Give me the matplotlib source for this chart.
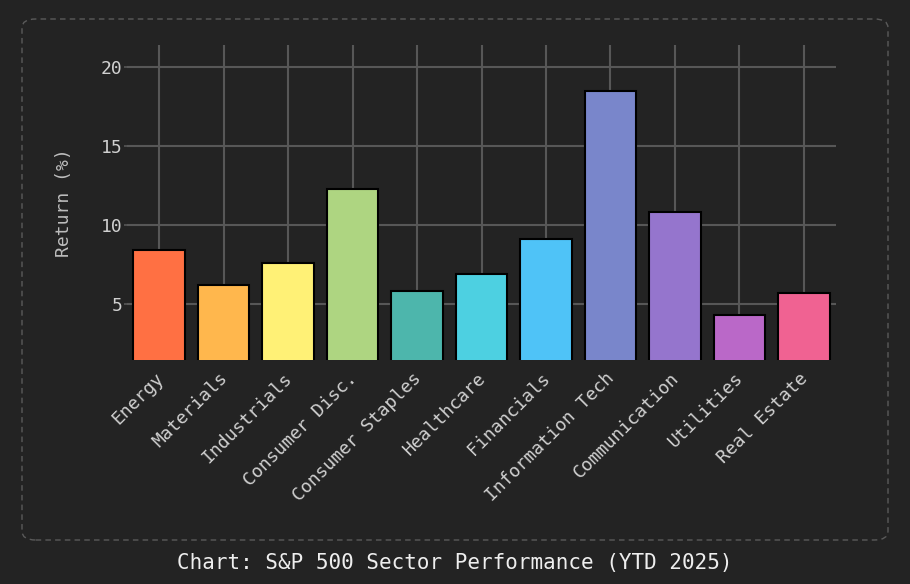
import numpy as np
import matplotlib
matplotlib.use("Agg")
import matplotlib.pyplot as plt
import matplotlib.transforms as mtransforms
from matplotlib.patches import FancyBboxPatch

# sector returns, YTD 2025
sectors = ["Energy", "Materials", "Industrials", "Consumer Disc.", "Consumer Staples",
           "Healthcare", "Financials", "Information Tech", "Communication",
           "Utilities", "Real Estate"]
returns = [8.4, 6.2, 7.6, 12.3, 5.8, 6.9, 9.1, 18.5, 10.8, 4.3, 5.7]
colors = ["#FF7043", "#FFB74D", "#FFF176", "#AED581", "#4DB6AC", "#4DD0E1",
          "#4FC3F7", "#7986CB", "#9575CD", "#BA68C8", "#F06292"]

bg = "#232323"
grid_c = "#575757"
txt_c = "#d0d0d0"

plt.rcParams['font.family'] = ['DejaVu Sans Mono', 'DejaVu Sans']

fig = plt.figure(figsize=(9.1, 5.84), dpi=100, facecolor=bg)
ax = fig.add_axes([127/910, 1 - 360/584, (836-127)/910, (360-45)/584])
ax.set_facecolor(bg)

x = np.arange(len(sectors))
ax.bar(x, returns, width=0.8, color=colors, edgecolor="black", linewidth=1.5, zorder=3)

ax.set_xlim(-0.5, 10.5)
ax.set_ylim(1.45, 21.4)
ax.set_yticks([5, 10, 15, 20])
ax.set_xticks(x)
ax.set_xticklabels(sectors, rotation=45, ha="right", rotation_mode="anchor")
ax.grid(True, color=grid_c, linewidth=1.5, zorder=0)
for s in ax.spines.values():
    s.set_visible(False)
ax.tick_params(axis="both", colors=grid_c, labelcolor=txt_c, labelsize=13, length=2, width=1.2)
ax.tick_params(axis="y", pad=1)
ax.tick_params(axis="x", length=0, pad=8)
ax.set_ylabel("Return (%)", color="#bdbdbd", fontsize=13, labelpad=20)

# nudge the rotated labels a bit left
shift = mtransforms.ScaledTranslation(-5/100, 2/100, fig.dpi_scale_trans)
for lbl in ax.get_xticklabels():
    lbl.set_transform(lbl.get_transform() + shift)

# dashed rounded frame
frame = FancyBboxPatch((22/910, 1 - 540/584), (888-22)/910, (540-19)/584,
                       boxstyle="round,pad=0,rounding_size=0.015",
                       transform=fig.transFigure, fill=False,
                       edgecolor="#5a5a5a", linewidth=1.0, linestyle=(0, (4, 3)))
fig.patches.append(frame)

fig.text(0.5, 1 - 563/584, "Chart: S&P 500 Sector Performance (YTD 2025)",
         ha="center", va="center", color="#eeeeee", fontsize=15)

fig.savefig("out.png", dpi=100, facecolor=bg)
